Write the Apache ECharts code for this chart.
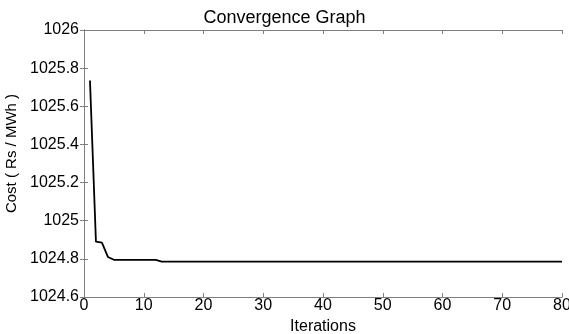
<!DOCTYPE html>
<html>
<head>
<meta charset="utf-8">
<script src="https://cdn.jsdelivr.net/npm/echarts@6/dist/echarts.min.js"></script>
<style>
  html, body { margin: 0; padding: 0; background: #fff; }
  #chart { width: 569px; height: 334px; }
</style>
</head>
<body>
<div id="chart"></div>
<script>
// iteration number and best cost at that iteration
const iterations = []
for (let i = 1; i <= 80; i++) iterations.push(i)

const costs = [
  1025.735, 1024.89, 1024.885, 1024.81, 1024.795,
  1024.795, 1024.795, 1024.795, 1024.795, 1024.795, 1024.795, 1024.795,
  1024.786, 1024.785, 1024.785, 1024.785, 1024.785, 1024.785, 1024.785, 1024.785,
  1024.785, 1024.785, 1024.785, 1024.785, 1024.785, 1024.785, 1024.785, 1024.785,
  1024.785, 1024.785, 1024.785, 1024.785, 1024.785, 1024.785, 1024.785, 1024.785,
  1024.785, 1024.785, 1024.785, 1024.785, 1024.785, 1024.785, 1024.785, 1024.785,
  1024.785, 1024.785, 1024.785, 1024.785, 1024.785, 1024.785, 1024.785, 1024.785,
  1024.785, 1024.785, 1024.785, 1024.785, 1024.785, 1024.785, 1024.785, 1024.785,
  1024.785, 1024.785, 1024.785, 1024.785, 1024.785, 1024.785, 1024.785, 1024.785,
  1024.785, 1024.785, 1024.785, 1024.785, 1024.785, 1024.785, 1024.785, 1024.785,
  1024.785, 1024.785, 1024.785, 1024.785
]

const font = 'Liberation Sans, Arial, sans-serif'
const frameColor = '#7f7f7f'

const chart = echarts.init(document.getElementById('chart'))

const frameAxis = {
  axisLine: { show: true, lineStyle: { color: frameColor, width: 1 } },
  axisTick: { show: true, inside: true, length: 4, lineStyle: { color: frameColor } },
  splitLine: { show: false }
}

chart.setOption({
  animation: false,
  title: {
    text: 'Convergence Graph',
    left: 'center',
    top: 4,
    textStyle: { fontFamily: font, fontSize: 18, fontWeight: 'normal', color: '#000' }
  },
  grid: { left: 84, right: 7, top: 30, bottom: 37, containLabel: false, outerBoundsMode: 'none' },
  xAxis: [
    {
      type: 'value',
      min: 0,
      max: 80,
      interval: 10,
      name: 'Iterations',
      nameLocation: 'middle',
      nameGap: 21,
      nameTextStyle: { fontFamily: font, fontSize: 16, color: '#000' },
      axisLabel: { fontFamily: font, fontSize: 16, color: '#000', margin: 1 },
      ...frameAxis
    },
    {
      type: 'value',
      position: 'top',
      min: 0,
      max: 80,
      interval: 10,
      axisLabel: { show: false },
      ...frameAxis
    }
  ],
  yAxis: [
    {
      type: 'value',
      min: 1024.6,
      max: 1026,
      interval: 0.2,
      name: 'Cost ( Rs / MWh )',
      nameLocation: 'middle',
      nameGap: 63,
      nameTextStyle: { fontFamily: font, fontSize: 15, color: '#000', padding: [0, 0, 0, 20] },
      axisLabel: {
        fontFamily: font, fontSize: 16, color: '#000', margin: 5,
        formatter: v => String(Math.round(v * 10) / 10)
      },
      ...frameAxis
    },
    {
      type: 'value',
      position: 'right',
      min: 1024.6,
      max: 1026,
      interval: 0.2,
      axisLabel: { show: false },
      ...frameAxis
    }
  ],
  series: [
    {
      type: 'line',
      data: iterations.map((it, i) => [it, costs[i]]),
      showSymbol: false,
      lineStyle: { color: '#000', width: 1.8 },
      smooth: false
    }
  ]
})
</script>
</body>
</html>
